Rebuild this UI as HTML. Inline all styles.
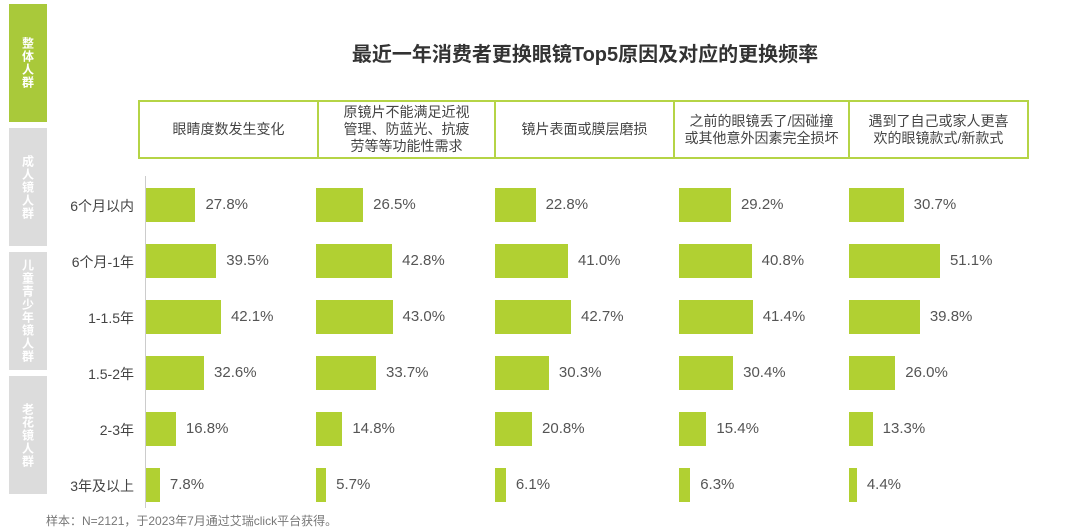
<!DOCTYPE html>
<html><head><meta charset="utf-8"><style>
body{margin:0;width:1068px;height:531px;background:#fff;position:relative;overflow:hidden;font-family:"Liberation Sans","Noto Sans CJK SC",sans-serif;color:#555}
.tab{position:absolute;left:9px;width:38px;background:#dcdcdc;color:#fff;font-size:12px;font-weight:bold;writing-mode:vertical-rl;display:flex;align-items:center;justify-content:center;letter-spacing:1px}
.hdr{position:absolute;top:100px;height:59px;border:2px solid #b5d446;display:flex;align-items:center;justify-content:center;text-align:center;font-size:14px;line-height:17px;color:#444;box-sizing:border-box}
.cat{position:absolute;width:130px;text-align:right;font-size:14px;color:#444}
.bar{position:absolute;background:#b1d032;height:34px}
.val{position:absolute;font-size:15px;color:#555}
</style></head><body>
<div class="tab" style="top:4px;height:118px;background:#a9c93a">整体人群</div>
<div class="tab" style="top:128px;height:118px">成人镜人群</div>
<div class="tab" style="top:252px;height:118px">儿童青少年镜人群</div>
<div class="tab" style="top:376px;height:118px">老花镜人群</div>
<div style="position:absolute;top:38px;left:230px;width:710px;text-align:center;font-size:20px;font-weight:bold;color:#333">最近一年消费者更换眼镜Top5原因及对应的更换频率</div>
<div id="hdrs"></div>
<div style="position:absolute;left:145px;top:176px;width:1px;height:332px;background:#ccc"></div>
<div id="chart"></div>
<div style="position:absolute;left:46px;top:512px;font-size:12px;color:#777">样本：N=2121，于2023年7月通过艾瑞click平台获得。</div>
<script>
const reasons=["眼睛度数发生变化","原镜片不能满足近视<br>管理、防蓝光、抗疲<br>劳等等功能性需求","镜片表面或膜层磨损","之前的眼镜丢了/因碰撞<br>或其他意外因素完全损坏","遇到了自己或家人更喜<br>欢的眼镜款式/新款式"];
const categories=["6个月以内","6个月-1年","1-1.5年","1.5-2年","2-3年","3年及以上"];
const s1=[27.8,39.5,42.1,32.6,16.8,7.8];
const s2=[26.5,42.8,43.0,33.7,14.8,5.7];
const s3=[22.8,41.0,42.7,30.3,20.8,6.1];
const s4=[29.2,40.8,41.4,30.4,15.4,6.3];
const s5=[30.7,51.1,39.8,26.0,13.3,4.4];
const series=[s1,s2,s3,s4,s5];
const colX=[146,316,495,679,849];
const hdrEdges=[138,317,494,673,848,1027];
const scale=1.78;
const rowY=i=>188+i*56;
const hd=document.getElementById('hdrs');
reasons.forEach((r,i)=>{
 const d=document.createElement('div');d.className='hdr';
 
 
 d.style.left=hdrEdges[i]+'px';d.style.width=(hdrEdges[i+1]-hdrEdges[i]+2)+'px';
 d.innerHTML=r;hd.appendChild(d);
});
const ch=document.getElementById('chart');
categories.forEach((c,i)=>{
 const l=document.createElement('div');l.className='cat';
 
 
 l.style.left='4px';l.style.top=(rowY(i)+8)+'px';l.textContent=c;ch.appendChild(l);
});
series.forEach((s,k)=>{
 s.forEach((v,i)=>{
  const b=document.createElement('div');b.className='bar';
  
  
  const w=v*scale;
  b.style.left=colX[k]+'px';b.style.top=rowY(i)+'px';b.style.width=w+'px';ch.appendChild(b);
  const t=document.createElement('div');t.className='val';
  
  
  t.style.left=(colX[k]+w+10)+'px';t.style.top=(rowY(i)+8)+'px';t.textContent=v.toFixed(1)+'%';ch.appendChild(t);
 });
});
</script>
</body></html>
